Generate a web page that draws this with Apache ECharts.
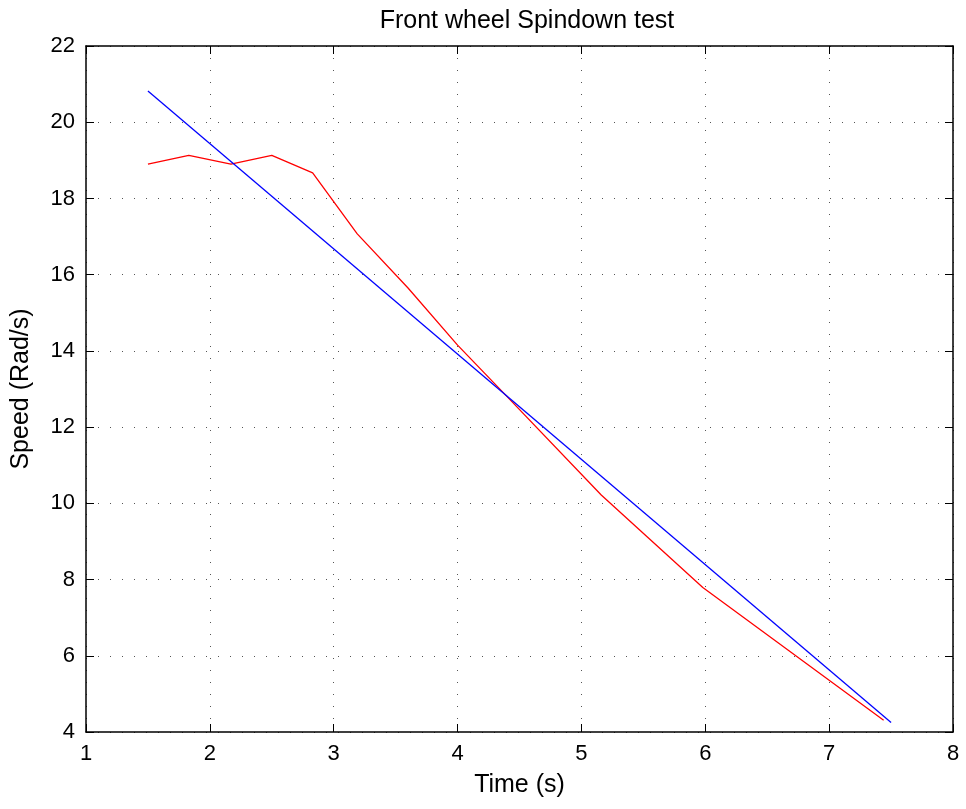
<!DOCTYPE html>
<html>
<head>
<meta charset="utf-8">
<script src="https://cdn.jsdelivr.net/npm/echarts@6/dist/echarts.min.js"></script>
<style>
  html, body { margin: 0; padding: 0; background: #fff; }
  #chart { width: 966px; height: 809px; }
</style>
</head>
<body>
<div id="chart"></div>
<script>
// Measured wheel speed over time
const measuredTime  = [1.5, 1.83, 2.17, 2.5, 2.83, 3.19, 3.6, 4.0, 4.4, 5.16, 5.98, 7.44];
const measuredSpeed = [18.9, 19.13, 18.9, 19.13, 18.67, 17.07, 15.65, 14.15, 12.8, 10.22, 7.79, 4.31];

// Linear fit endpoints
const fitTime  = [1.5, 7.5];
const fitSpeed = [20.82, 4.25];

const xTicks = [1, 2, 3, 4, 5, 6, 7, 8];
const yTicks = [4, 6, 8, 10, 12, 14, 16, 18, 20, 22];

const FONT = 'Liberation Sans, Arial, Helvetica, sans-serif';

const chart = echarts.init(document.getElementById('chart'), null, { renderer: 'canvas' });

const gridLine = { show: true, lineStyle: { color: '#555', width: 1, type: [1, 11] } };
const axisLine = { show: true, onZero: false, lineStyle: { color: '#000', width: 1.5 } };
const tick = { show: true, inside: true, length: 8, lineStyle: { color: '#000', width: 1 } };

chart.setOption({
  animation: false,
  backgroundColor: '#fff',
  title: {
    text: 'Front wheel Spindown test',
    left: 522, top: 4, textAlign: 'center',
    textStyle: { fontFamily: FONT, fontSize: 25, fontWeight: 'normal', color: '#000' }
  },
  grid: { left: 86, top: 46, right: 13, bottom: 77, containLabel: false },
  xAxis: [
    {
      type: 'value', min: xTicks[0], max: xTicks[xTicks.length - 1], interval: 1,
      name: 'Time (s)', nameLocation: 'middle', nameGap: 41,
      nameTextStyle: { fontFamily: FONT, fontSize: 25, color: '#000' },
      axisLine, axisTick: tick, splitLine: gridLine,
      axisLabel: { fontFamily: FONT, fontSize: 22, color: '#000', margin: 11 }
    },
    {
      type: 'value', position: 'top', min: xTicks[0], max: xTicks[xTicks.length - 1], interval: 1,
      axisLine, axisTick: tick, splitLine: { show: false }, axisLabel: { show: false }
    }
  ],
  yAxis: [
    {
      type: 'value', min: yTicks[0], max: yTicks[yTicks.length - 1], interval: 2,
      name: 'Speed (Rad/s)', nameLocation: 'middle', nameGap: 52, nameRotate: 90,
      nameTextStyle: { fontFamily: FONT, fontSize: 25, color: '#000' },
      axisLine, axisTick: tick, splitLine: gridLine,
      axisLabel: { fontFamily: FONT, fontSize: 22, color: '#000', margin: 11 }
    },
    {
      type: 'value', position: 'right', min: yTicks[0], max: yTicks[yTicks.length - 1], interval: 2,
      axisLine, axisTick: tick, splitLine: { show: false }, axisLabel: { show: false }
    }
  ],
  series: [
    {
      type: 'line', name: 'Measured',
      data: measuredTime.map((t, i) => [t, measuredSpeed[i]]),
      showSymbol: false, symbol: 'none',
      lineStyle: { color: '#ff0000', width: 1.3 }
    },
    {
      type: 'line', name: 'Fit',
      data: fitTime.map((t, i) => [t, fitSpeed[i]]),
      showSymbol: false, symbol: 'none',
      lineStyle: { color: '#0000ff', width: 1.3 }
    }
  ]
});
</script>
</body>
</html>
